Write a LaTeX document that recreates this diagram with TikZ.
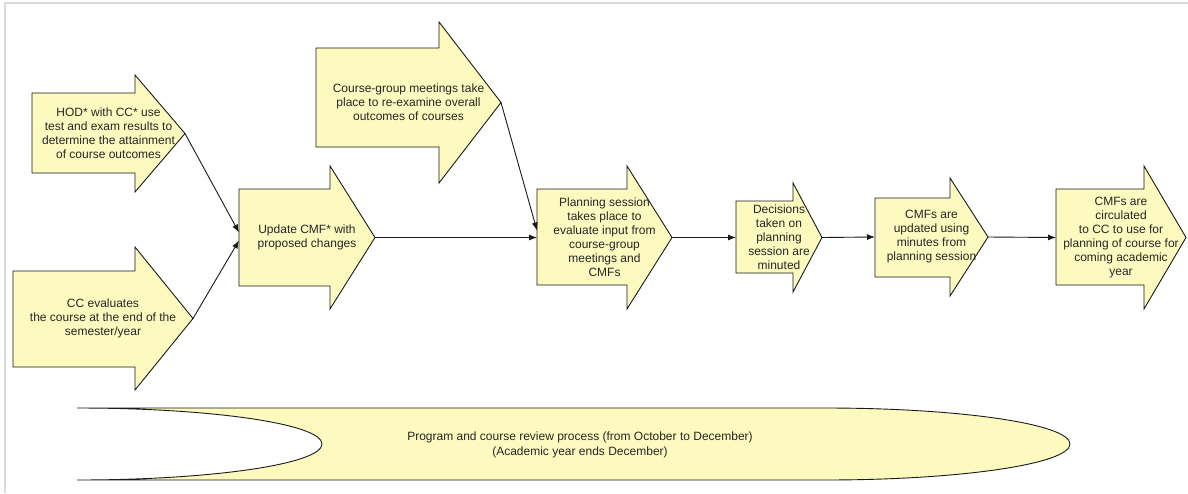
\documentclass[tikz,border=0pt]{standalone}
\usepackage{fontspec}
\setmainfont{Liberation Sans}
\usetikzlibrary{arrows.meta}
\definecolor{note}{HTML}{FCFABF}
\definecolor{outline}{HTML}{1A1A1A}
\definecolor{frame}{HTML}{DADADA}

\tikzset{
  block/.style={fill=note,draw=outline,line width=.9pt,line join=miter},
  label/.style={align=center,font=\fontsize{12}{14}\selectfont,inner sep=0pt,text=black!85},
  link/.style={draw=outline,line width=.9pt,-{Latex[length=8pt,width=6pt]}},
}

\begin{document}
\begin{tikzpicture}[x=1pt,y=-1pt]
  \useasboundingbox (0,0) rectangle (1188,493);
  \fill[white] (0,0) rectangle (1188,493);

  % Thin grey frame along the top and left.
  \draw[frame,line width=1.5pt] (5,493) -- (5,3) -- (1188,3);

  % Block arrows: name / tail x / body top / body bottom / head base x / head top / head bottom / tip x / text
  \foreach \nm/\tail/\btop/\bbot/\hbase/\htop/\hbot/\tipx/\txt in {
      hod/32/93/173/135/75/192/185/{HOD* with CC* use\\test and exam results to\\determine the attainment\\of course outcomes},
      cce/13/271/367/135/247/390/193/{CC evaluates\\the course at the end of the\\semester/year},
      upd/239/189/286/330/166/309/375/{Update CMF* with\\proposed changes},
      cgm/316/48/147/439/22/183/501/{Course-group meetings take\\place to re-examine overall\\outcomes of courses},
      pln/537/189/285/627/166/309/672/{Planning session\\takes place to\\evaluate input from\\course-group\\meetings and\\CMFs},
      dec/736/201/273/793/183/292/822/{Decisions\\taken on\\planning\\session are\\minuted},
      upc/875/198/277/950/178/296/988/{CMFs are\\updated using\\minutes from\\planning session},
      cir/1056/189/285/1144/166/309/1186/{CMFs are\\circulated\\to CC to use for\\planning of course for\\coming academic\\year}} {
    \pgfmathsetmacro\midy{(\htop+\hbot)/2}
    \draw[block] (\tail,\btop) -- (\hbase,\btop) -- (\hbase,\htop) -- (\tipx,\midy)
      -- (\hbase,\hbot) -- (\hbase,\bbot) -- (\tail,\bbot) -- cycle;
    \node[label] (\nm) at ({(\tail+\tipx)/2},\midy) {\txt};
    \coordinate (\nm-in) at (\tail,\midy);
    \coordinate (\nm-tip) at (\tipx,\midy);
  }

  % Connectors between the arrows.
  \draw[link] (hod-tip) -- ([yshift=5pt]upd-in);
  \draw[link] (cce-tip) -- ([yshift=-3pt]upd-in);
  \draw[link] (upd-tip) -- (pln-in);
  \draw[link] (cgm-tip) -- ([yshift=7pt]pln-in);
  \draw[link] (pln-tip) -- (dec-in);
  \draw[link] (dec-tip) -- (upc-in);
  \draw[link] (upc-tip) -- (cir-in);

  % Review period band underneath.
  \draw[block] (77,408) -- (825,408) .. controls (960,408) and (1070,424) .. (1070,444)
    .. controls (1070,464) and (960,480) .. (825,480) -- (77,480)
    .. controls (212,480) and (322,464) .. (322,444)
    .. controls (322,424) and (212,408) .. (77,408) -- cycle;
  \node[label,font=\fontsize{12}{15}\selectfont] (review) at (580,444.5)
    {Program and course review process (from October to December)\\(Academic year ends December)};
\end{tikzpicture}
\end{document}
